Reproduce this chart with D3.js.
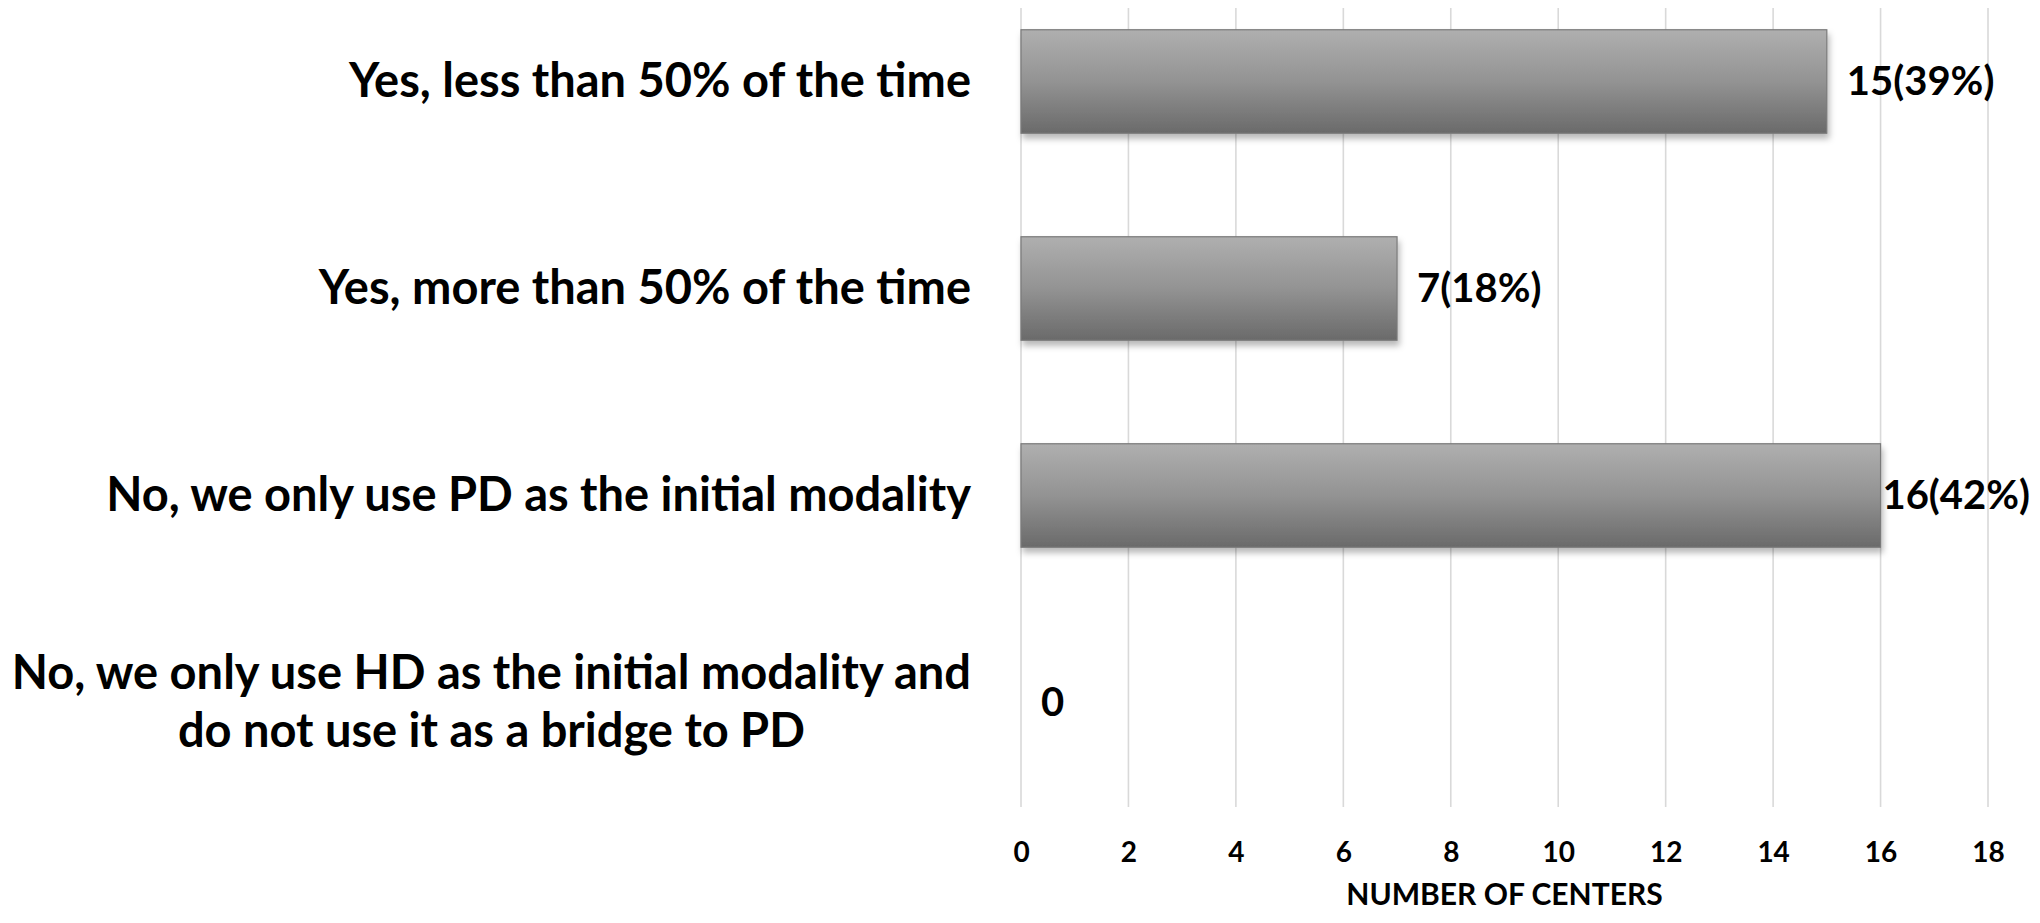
<!DOCTYPE html>
<html>
<head>
<meta charset="utf-8">
<script src="https://cdn.jsdelivr.net/npm/d3@7/dist/d3.min.js"></script>
<style>
  html, body { margin: 0; padding: 0; background: #ffffff; }
  svg { display: block; }
  text { font-family: "Lato", "Open Sans", sans-serif; font-weight: bold; fill: #000; }
</style>
</head>
<body>
<svg id="chart" width="2040" height="923"></svg>
<script>
// ---- data ----
const categories = [
  "Yes, less than 50% of the time",
  "Yes, more than 50% of the time",
  "No, we only use PD as the initial modality",
  "No, we only use HD as the initial modality and do not use it as a bridge to PD"
];
const categoryLines = [
  ["Yes, less than 50% of the time"],
  ["Yes, more than 50% of the time"],
  ["No, we only use PD as the initial modality"],
  ["No, we only use HD as the initial modality and", "do not use it as a bridge to PD"]
];
const values = [15, 7, 16, 0];
const valueLabels = ["15(39%)", "7(18%)", "16(42%)", "0"];
const xTicks = [0, 2, 4, 6, 8, 10, 12, 14, 16, 18];
const axisTitle = "NUMBER OF CENTERS";

// ---- layout ----
const W = 2040, H = 923;
const plotLeft = 1021, plotRight = 1988, gridTop = 8, gridBottom = 807;
const svg = d3.select("#chart");

const x = d3.scaleLinear().domain([0, 18]).range([plotLeft, plotRight]);
const y = d3.scaleBand().domain(d3.range(categories.length))
  .range([-22, 806]).paddingInner(0.5).paddingOuter(0.25);

// defs: gradient + shadow
const defs = svg.append("defs");
const grad = defs.append("linearGradient").attr("id", "barGrad")
  .attr("x1", 0).attr("y1", 0).attr("x2", 0).attr("y2", 1);
grad.append("stop").attr("offset", "0%").attr("stop-color", "#afafaf");
grad.append("stop").attr("offset", "50%").attr("stop-color", "#939393");
grad.append("stop").attr("offset", "100%").attr("stop-color", "#6a6a6a");
const f = defs.append("filter").attr("id", "shadow")
  .attr("x", "-5%").attr("y", "-20%").attr("width", "110%").attr("height", "150%");
f.append("feDropShadow").attr("dx", 2).attr("dy", 5).attr("stdDeviation", 3)
  .attr("flood-color", "#000").attr("flood-opacity", 0.28);

// gridlines
svg.append("g").selectAll("line").data(xTicks).join("line")
  .attr("x1", d => x(d)).attr("x2", d => x(d))
  .attr("y1", gridTop).attr("y2", gridBottom)
  .attr("stroke", "#d9d9d9").attr("stroke-width", 1.6);

// bars
svg.append("g").selectAll("rect").data(values).join("rect")
  .attr("x", x(0))
  .attr("y", (d, i) => y(i))
  .attr("width", d => x(d) - x(0))
  .attr("height", y.bandwidth())
  .attr("fill", "url(#barGrad)")
  .attr("stroke", d => d > 0 ? "#7a7a7a" : "none")
  .attr("stroke-width", 1.2)
  .attr("filter", "url(#shadow)");

// value labels
const vl = svg.append("g").selectAll("text").data(values).join("text")
  .attr("y", (d, i) => y(i) + y.bandwidth() / 2)
  .attr("dy", "0.34em")
  .attr("font-size", 40)
  .text((d, i) => valueLabels[i]);
vl.each(function(d) {
  const w = this.getComputedTextLength();
  let xs = x(d) + 20;
  if (xs + w > W - 10) xs = W - 10 - w;
  d3.select(this).attr("x", xs);
});

// category labels
const labelRight = 971;
const lineGap = 58;
const cg = svg.append("g");
categoryLines.forEach((lines, i) => {
  const cy = y(i) + y.bandwidth() / 2;
  const t = cg.append("text").attr("font-size", 47).attr("text-anchor", "middle");
  const tspans = lines.map((ln, j) => t.append("tspan")
    .attr("y", cy + (j - (lines.length - 1) / 2) * lineGap)
    .attr("dy", "0.32em").text(ln));
  let maxW = 0;
  tspans.forEach(ts => { maxW = Math.max(maxW, ts.node().getComputedTextLength()); });
  const cx = labelRight - maxW / 2;
  tspans.forEach(ts => ts.attr("x", cx));
});

// x axis tick labels
const xAxis = d3.axisBottom(x).tickValues(xTicks).tickSize(0).tickPadding(0)
  .tickFormat(d3.format("d"));
const ax = svg.append("g").attr("transform", "translate(0,842)").call(xAxis);
ax.select(".domain").remove();
ax.selectAll("text").attr("font-size", 28)
  .style("font-family", "Lato, \"Open Sans\", sans-serif")
  .style("font-weight", "bold").attr("fill", "#000");

// axis title
svg.append("text").attr("x", (plotLeft + plotRight) / 2).attr("y", 905)
  .attr("text-anchor", "middle").attr("font-size", 30).text(axisTitle);
</script>
</body>
</html>
